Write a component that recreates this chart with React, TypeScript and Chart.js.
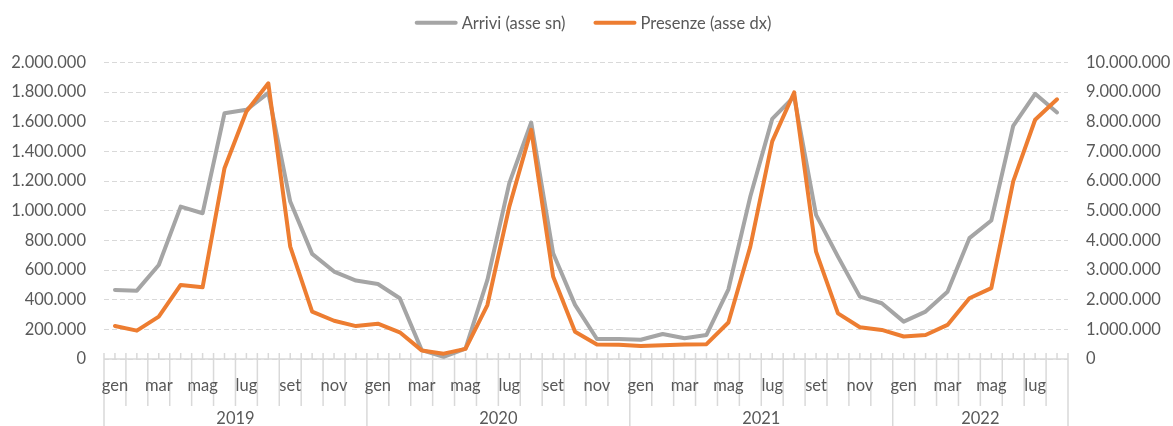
import { useEffect, useRef } from 'react';
import { Chart, registerables } from 'chart.js';

Chart.register(...registerables);

// ---- data ----
const years = ['2019', '2020', '2021', '2022'];
const monthsPerYear = [12, 12, 12, 8];
const monthNames = ['gen', 'feb', 'mar', 'apr', 'mag', 'giu', 'lug', 'ago', 'set', 'ott', 'nov', 'dic'];

const arrivi = [
  466000, 461000, 634000, 1028000, 983000, 1658000, 1681000, 1795000, 1062000, 709000, 590000, 529000,
  506000, 410000, 60000, 15000, 70000, 533000, 1186000, 1595000, 713000, 365000, 135000, 135000,
  130000, 169000, 140000, 162000, 470000, 1096000, 1620000, 1770000, 972000, 691000, 421000, 376000,
  252000, 320000, 454000, 815000, 934000, 1573000, 1789000, 1663000,
];

const presenze = [
  1114000, 956000, 1429000, 2498000, 2419000, 6435000, 8350000, 9300000, 3790000, 1600000, 1290000, 1110000,
  1190000, 900000, 290000, 180000, 340000, 1820000, 5140000, 7730000, 2780000, 920000, 490000, 480000,
  440000, 460000, 490000, 500000, 1230000, 3790000, 7340000, 8990000, 3620000, 1540000, 1070000, 980000,
  760000, 810000, 1150000, 2050000, 2390000, 5990000, 8070000, 8760000,
];

const seriesNames = ['Arrivi (asse sn)', 'Presenze (asse dx)'];
const leftAxis = { min: 0, max: 2000000, step: 200000 };
const rightAxis = { min: 0, max: 10000000, step: 1000000 };

const categories: string[] = years.flatMap((y, yi) =>
  monthNames.slice(0, monthsPerYear[yi]).map((m) => `${m} ${y}`)
);

// ---- styles ----
const FONT = 'Lato';
const FONT_SIZE = 16.5;
const TEXT = '#595959';
const AXIS = '#d9d9d9';
const GRAY = '#a5a5a5';
const ORANGE = '#ed7d31';

const fmt = (v: number) => String(Math.round(v)).replace(/\B(?=(\d{3})+(?!\d))/g, '.');

const decorPlugin = {
  id: 'decor',
  beforeDatasetsDraw(chart: any) {
    const { ctx, chartArea, scales } = chart;
    const x = scales.x;
    const n = categories.length;
    const half = (x.getPixelForValue(1) - x.getPixelForValue(0)) / 2;
    const bottom = chartArea.bottom;
    const yearBounds = new Set<number>();
    let acc = 0;
    yearBounds.add(0);
    monthsPerYear.forEach((c) => {
      acc += c;
      yearBounds.add(acc);
    });
    ctx.save();
    ctx.strokeStyle = AXIS;
    ctx.lineWidth = 1.5;
    ctx.beginPath();
    ctx.moveTo(x.left, bottom);
    ctx.lineTo(x.right, bottom);
    ctx.stroke();
    for (let i = 0; i < n; i++) {
      const px = x.getPixelForValue(i);
      ctx.beginPath();
      ctx.moveTo(px, bottom - 6);
      ctx.lineTo(px, bottom);
      ctx.stroke();
    }
    for (let k = 0; k <= n; k++) {
      const px = k < n ? x.getPixelForValue(k) - half : x.getPixelForValue(n - 1) + half;
      ctx.beginPath();
      ctx.moveTo(px, bottom - 6);
      ctx.lineTo(px, yearBounds.has(k) ? chart.height : bottom + 47);
      ctx.stroke();
    }
    ctx.restore();
  },
  afterDraw(chart: any) {
    const { ctx, chartArea, scales } = chart;
    const x = scales.x;
    const bottom = chartArea.bottom;
    ctx.save();
    ctx.fillStyle = TEXT;
    ctx.font = `${FONT_SIZE}px ${FONT}`;
    ctx.textAlign = 'center';
    ctx.textBaseline = 'alphabetic';
    // month labels (every other month)
    categories.forEach((_, i) => {
      if (i % 2 === 0) {
        ctx.fillText(categories[i].split(' ')[0], x.getPixelForValue(i), bottom + 32);
      }
    });
    // year labels
    let start = 0;
    years.forEach((y, yi) => {
      const end = start + monthsPerYear[yi] - 1;
      const cx = (x.getPixelForValue(start) + x.getPixelForValue(end)) / 2;
      ctx.fillText(y, cx, bottom + 65);
      start = end + 1;
    });
    // legend
    const colors = [GRAY, ORANGE];
    const sample = 43;
    const gapText = 4;
    const gapItem = 28;
    const widths = seriesNames.map((s) => ctx.measureText(s).width);
    const total = widths.reduce((a, w) => a + sample + gapText + w, 0) + gapItem * (seriesNames.length - 1);
    let lx = (chartArea.left + chartArea.right) / 2 + 7 - total / 2;
    const ly = 22.7;
    ctx.textAlign = 'left';
    ctx.textBaseline = 'middle';
    seriesNames.forEach((s, i) => {
      ctx.strokeStyle = colors[i];
      ctx.lineWidth = 4;
      ctx.lineCap = 'round';
      ctx.beginPath();
      ctx.moveTo(lx + 2, ly);
      ctx.lineTo(lx + sample - 2, ly);
      ctx.stroke();
      ctx.fillText(s, lx + sample + gapText, ly + 1);
      lx += sample + gapText + widths[i] + gapItem;
    });
    ctx.restore();
  },
};

export default function App() {
  const ref = useRef<HTMLCanvasElement>(null);
  useEffect(() => {
    if (!ref.current) return;
    const chart = new Chart(ref.current, {
      type: 'line',
      data: {
        labels: categories,
        datasets: [
          {
            label: seriesNames[0],
            data: arrivi,
            yAxisID: 'y',
            borderColor: GRAY,
            backgroundColor: GRAY,
            borderWidth: 4,
            pointRadius: 0,
            tension: 0,
            borderJoinStyle: 'round',
            borderCapStyle: 'round',
            order: 1,
          },
          {
            label: seriesNames[1],
            data: presenze,
            yAxisID: 'y1',
            borderColor: ORANGE,
            backgroundColor: ORANGE,
            borderWidth: 4,
            pointRadius: 0,
            tension: 0,
            borderJoinStyle: 'round',
            borderCapStyle: 'round',
            order: 0,
          },
        ],
      },
      options: {
        responsive: false,
        animation: false,
        layout: { padding: { top: 62.5, left: 0, right: 0, bottom: 0 } },
        plugins: { legend: { display: false }, tooltip: { enabled: false }, title: { display: false } },
        scales: {
          x: {
            type: 'category',
            offset: true,
            grid: { display: false },
            border: { display: false },
            ticks: { display: false },
            afterFit: (s: any) => {
              s.height = 67;
            },
          },
          y: {
            position: 'left',
            min: leftAxis.min,
            max: leftAxis.max,
            ticks: {
              stepSize: leftAxis.step,
              callback: (v: any) => fmt(Number(v)),
              color: TEXT,
              font: { family: FONT, size: FONT_SIZE },
              padding: 18,
            },
            grid: { color: AXIS, lineWidth: 1, drawTicks: false },
            border: { display: false, dash: [5, 3] },
            afterFit: (s: any) => {
              s.width = 104;
            },
          },
          y1: {
            position: 'right',
            min: rightAxis.min,
            max: rightAxis.max,
            ticks: {
              stepSize: rightAxis.step,
              callback: (v: any) => fmt(Number(v)),
              color: TEXT,
              font: { family: FONT, size: FONT_SIZE },
              padding: 18,
            },
            grid: { drawOnChartArea: false, drawTicks: false },
            border: { display: false },
            afterFit: (s: any) => {
              s.width = 105;
            },
          },
        },
      },
      plugins: [decorPlugin],
    } as any);
    return () => chart.destroy();
  }, []);
  return (
    <div style={{ position: 'absolute', left: 0, top: 0, width: 1173, height: 426, background: '#fff' }}>
      <canvas ref={ref} width={1173} height={426} style={{ width: 1173, height: 426 }} />
    </div>
  );
}
